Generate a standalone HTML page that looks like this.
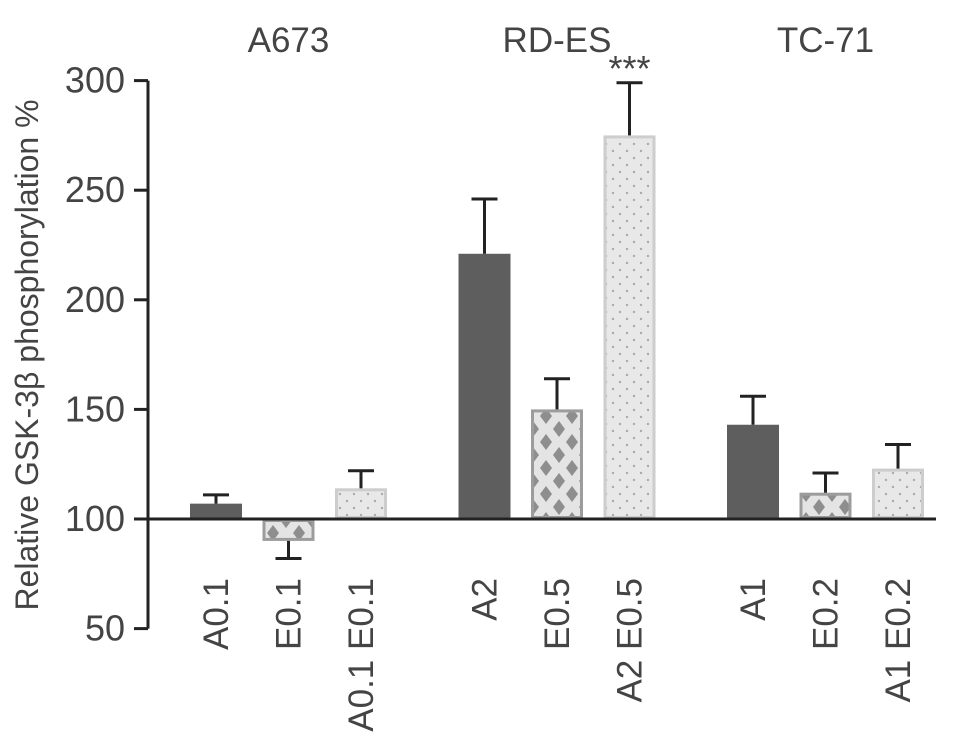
<!DOCTYPE html>
<html><head><meta charset="utf-8"><style>
body{margin:0;background:#fff;}
svg text{font-family:"Liberation Sans",sans-serif;fill:#444;}
</style></head><body>
<svg id="chart" width="969" height="748" xmlns="http://www.w3.org/2000/svg">
<defs>
<pattern id="diamond" width="26" height="26" patternUnits="userSpaceOnUse">
<rect width="26" height="26" fill="#e4e4e4"/>
<path d="M13 5 L19 13 L13 21 L7 13Z" fill="#8e8e8e"/>
<path d="M0 -8 L6 0 L0 8 L-6 0Z M26 -8 L32 0 L26 8 L20 0Z M0 18 L6 26 L0 34 L-6 26Z M26 18 L32 26 L26 34 L20 26Z" fill="#8e8e8e"/>
</pattern>
<pattern id="dots" width="14" height="14" patternUnits="userSpaceOnUse">
<rect width="14" height="14" fill="#e8e8e8"/>
<circle cx="4" cy="4" r="1.2" fill="#aaa"/>
<circle cx="11" cy="11" r="1.2" fill="#aaa"/>
</pattern>
</defs>
<g id="plot"></g>
</svg>
<script>
const groups = ["A673","RD-ES","TC-71"];
const categories = ["A0.1","E0.1","A0.1 E0.1","A2","E0.5","A2 E0.5","A1","E0.2","A1 E0.2"];
const values = [107,90,114,221,150,275,143,112,123];
const errors = [4,-8,8,25,14,24,13,9,11];
const kinds = [0,1,2,0,1,2,0,1,2];
const yTicks = [50,100,150,200,250,300];
const sig = ["","","","","","***","","",""];

const NS="http://www.w3.org/2000/svg";
const g=document.getElementById('plot');
function y(v){return 519-(v-100)*2.192;}
function xb(i){const gi=Math.floor(i/3), k=i%3;return 190+gi*268.5+k*72.5;}
const bw=52;
function mk(tag,attrs,parent){const e=document.createElementNS(NS,tag);for(const k in attrs)e.setAttribute(k,attrs[k]);(parent||g).appendChild(e);return e;}

let ax=mk('line',{x1:148,y1:y(300),x2:148,y2:y(50),stroke:'#222','stroke-width':3});


yTicks.forEach(t=>{
  let l=mk('line',{x1:134,y1:y(t),x2:148,y2:y(t),stroke:'#222','stroke-width':3});
  
  
  let tx=mk('text',{x:125,y:y(t)+12,'text-anchor':'end','font-size':36});
  tx.textContent=t;
  
  
});
let yt=mk('text',{x:0,y:0,'text-anchor':'middle','font-size':32,transform:'translate(38,355) rotate(-90)'});
yt.textContent='Relative GSK-3β phosphorylation %';



groups.forEach((gn,gi)=>{
  let t=mk('text',{x:xb(gi*3+1)+bw/2,y:52,'text-anchor':'middle','font-size':35});
  t.textContent=gn;
  
  
});

const fills=['#5e5e5e','url(#diamond)','url(#dots)'];
const strokes=['#5e5e5e','#9c9c9c','#cdcdcd'];
values.forEach((v,i)=>{
  const x=xb(i), k=kinds[i];
  const top=Math.min(y(v),y(100)), h=Math.abs(y(v)-y(100));
  let r=mk('rect',{x:x+1.5,y:top+1.5,width:bw-3,height:Math.max(h-3,0),fill:fills[k],stroke:strokes[k],'stroke-width':3});
  
  
  const ye=y(v+errors[i]), cx=x+bw/2;
  let el=mk('line',{x1:cx,y1:y(v),x2:cx,y2:ye,stroke:'#222','stroke-width':3});
  
  
  let cap=mk('line',{x1:cx-13,y1:ye,x2:cx+13,y2:ye,stroke:'#222','stroke-width':3});
  
  
  if(sig[i]){
    let s=mk('text',{x:cx,y:ye-2,'text-anchor':'middle','font-size':36});
    s.textContent=sig[i];
    
    
  }
  let lb=mk('text',{x:0,y:0,'text-anchor':'end','font-size':35,transform:`translate(${cx+12},578) rotate(-90)`});
  lb.textContent=categories[i];
  
  
});
let base=mk('line',{x1:148,y1:y(100),x2:936,y2:y(100),stroke:'#222','stroke-width':3});


</script>
</body></html>
